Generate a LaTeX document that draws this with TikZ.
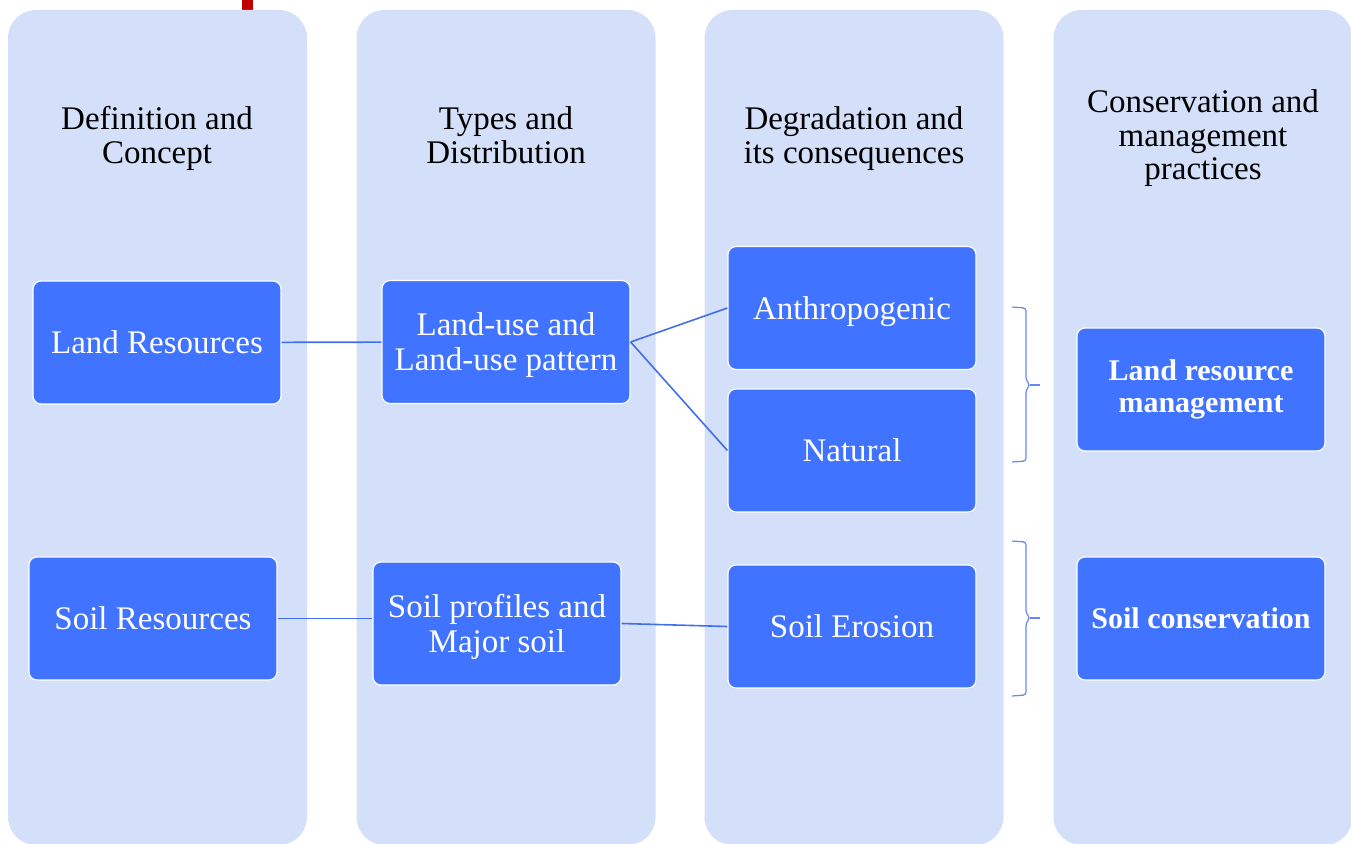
\documentclass[tikz,border=0pt]{standalone}
\usepackage{fontspec}
\setmainfont{Liberation Serif}
\definecolor{colbg}{RGB}{212, 224, 250}
\definecolor{boxbl}{RGB}{64, 115, 255}
\definecolor{linkbl}{RGB}{66, 110, 235}
\definecolor{bracebl}{RGB}{100, 135, 245}
\definecolor{redtab}{RGB}{192, 0, 0}

\begin{document}
\begin{tikzpicture}[x=0.5pt, y=-0.5pt]
    \tikzstyle{colblock} = [rectangle, fill=colbg, rounded corners=14pt,
    minimum width=149.5pt, minimum height=417.5pt, inner sep=0pt];
    \tikzstyle{headtext} = [align=center, text=black, text depth=0pt,
    font=\fontsize{16.5}{16.75}\selectfont];
    \tikzstyle{block} = [rectangle, draw=white, line width=0.6pt, fill=boxbl, text=white,
    align=center, rounded corners=4pt, minimum width=124pt, minimum height=61.5pt,
    text depth=0pt, font=\fontsize{16.5}{17.5}\selectfont];
    \tikzstyle{bblock} = [block, text depth={}, font=\fontsize{15}{16}\selectfont\bfseries];
    \tikzstyle{line} = [draw, linkbl, line width=0.8pt];
    \tikzstyle{grp} = [draw, bracebl, line width=0.6pt, rounded corners=1.5pt];

    \useasboundingbox (0,0) rectangle (1351,844);
    \fill[redtab] (242,0) rectangle (253,20);

    % Columns
    \node [colblock] (col1) at (157.5,427.5) {};
    \node [colblock] (col2) at (506,427.5) {};
    \node [colblock] (col3) at (854,427.5) {};
    \node [colblock] (col4) at (1203,427.5) {};

    % Headers
    \node [headtext] (head1) at (157,135) {Definition and\\Concept};
    \node [headtext] (head2) at (506,135) {Types and\\Distribution};
    \node [headtext] (head3) at (854,135) {Degradation and\\its consequences};
    \node [headtext] (head4) at (1203,135) {Conservation and\\management\\practices};

    % Row 1
    \node [block] (landres) at (157,342.5) {Land Resources};
    \node [block] (landuse) at (506,342) {Land-use and\\Land-use pattern};
    \node [block] (anthro) at (852,308) {Anthropogenic};
    \node [block] (natural) at (852,450.5) {Natural};
    \node [bblock] (landmgmt) at (1201,389.5) {Land resource\\management};
    % Row 2
    \node [block] (soilres) at (153,618.5) {Soil Resources};
    \node [block] (soilprof) at (497,623.5) {Soil profiles and\\Major soil};
    \node [block] (erosion) at (852,626.5) {Soil Erosion};
    \node [bblock] (soilcons) at (1201,618.5) {Soil conservation};

    % Links
    \draw [line] (landres) -- (landuse);
    \draw [line] (landuse.east) -- (anthro.west);
    \draw [line] (landuse.east) -- (natural.west);
    \draw [line] (soilres.east) -- (soilres.east -| soilprof.west);
    \draw [line] (soilprof.east) -- (erosion.west);

    % Braces
    \coordinate (br1) at (1040,385);
    \coordinate (br2) at (1040,618);
    \draw [grp] (1012,307) -- (1026,308) -- (1026,380) -- (1030,385) -- (1026,390) -- (1026,461) -- (1012,462);
    \draw [grp] (1030,385) -- (br1);
    \draw [grp] (1012,541) -- (1026,542) -- (1026,613) -- (1030,618) -- (1026,623) -- (1026,695) -- (1012,696);
    \draw [grp] (1030,618) -- (br2);
\end{tikzpicture}
\end{document}
